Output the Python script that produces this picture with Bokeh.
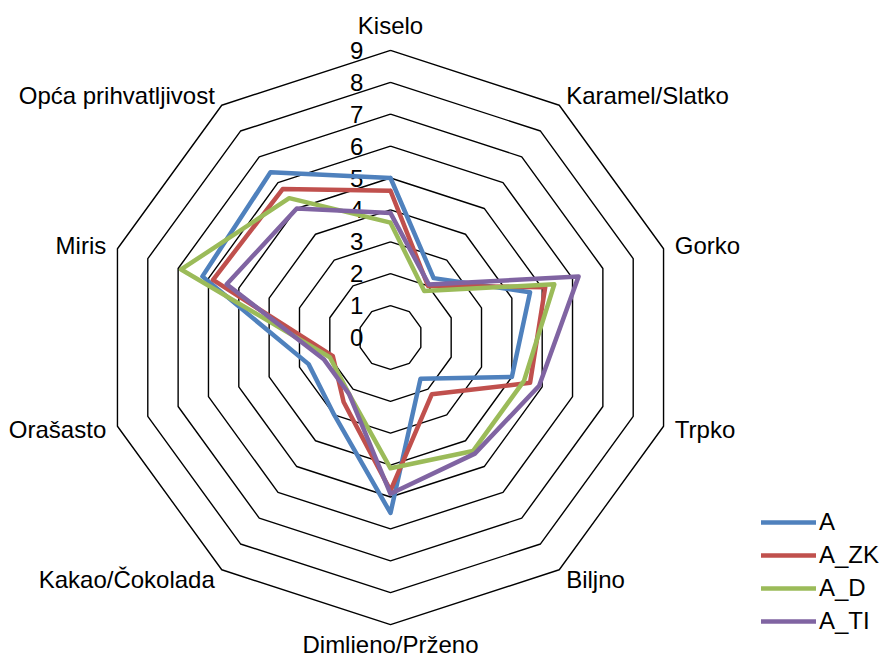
import numpy as np
from bokeh.plotting import figure
from bokeh.models import Range1d, Legend, LegendItem
from bokeh.core.properties import value
from bokeh.embed import file_html
from bokeh.resources import INLINE

categories = ["Kiselo", "Karamel/Slatko", "Gorko", "Trpko", "Biljno",
              "Dimlieno/Prženo", "Kakao/Čokolada", "Orašasto", "Miris",
              "Opća prihvatljivost"]
series_names = ["A", "A_ZK", "A_D", "A_TI"]
A = [5.0, 2.3, 4.6, 4.0, 1.6, 5.5, 3.0, 2.7, 6.2, 6.4]
A_ZK = [4.6, 2.0, 5.1, 4.6, 2.2, 4.8, 2.5, 1.9, 5.85, 5.75]
A_D = [3.6, 1.8, 5.4, 4.4, 4.4, 4.1, 2.2, 2.0, 6.9, 5.4]
A_TI = [3.9, 2.05, 6.2, 4.9, 4.5, 4.9, 2.2, 2.2, 5.4, 5.0]
tick_labels = ["0", "1", "2", "3", "4", "5", "6", "7", "8", "9"]
colors = ["#4F81BD", "#C0504D", "#9BBB59", "#8064A2"]

FONT = "Liberation Sans"
FS = "24px"

# layout (pixels in the reference picture)
W, H = 879, 658
UNIT = 31.9
CX, CY = 390.0, 337.0
x0 = (0 - CX) / UNIT
x1 = (W - CX) / UNIT
y1 = (CY - 0) / UNIT
y0 = (CY - H) / UNIT

p = figure(width=W, height=H, output_backend="svg", toolbar_location=None,
           x_range=Range1d(x0, x1), y_range=Range1d(y0, y1),
           min_border=0, min_border_left=0, min_border_right=0,
           min_border_top=0, min_border_bottom=0)
p.axis.visible = False
p.xgrid.visible = False
p.ygrid.visible = False
p.outline_line_color = None
p.background_fill_color = "white"
p.border_fill_color = "white"

n = len(categories)
theta = np.arange(n) * 2 * np.pi / n
sx = np.sin(theta)
cy = np.cos(theta)

# rings
for k in range(1, len(tick_labels)):
    xs = list(k * sx) + [k * sx[0]]
    ys = list(k * cy) + [k * cy[0]]
    p.line(xs, ys, line_color="black", line_width=1.4)

# tick labels
tvals = [float(t) for t in tick_labels]
p.text(x=[-0.85] * len(tvals), y=tvals, text=tick_labels,
       text_font=value(FONT), text_font_size=FS, text_align="right",
       text_baseline="middle", text_color="black")

# category labels
lx, ly, la = [], [], []
for i in range(n):
    s, c = sx[i], cy[i]
    if abs(s) < 0.01:
        r = 9.37 + (0.40 if c > 0 else 0.26)
    else:
        r = 9.37
    lx.append(r * s)
    ly.append(r * c)
    la.append("left" if s > 0.01 else ("right" if s < -0.01 else "center"))
p.text(x=lx, y=ly, text=categories, text_align=la,
       text_font=value(FONT), text_font_size=FS, text_baseline="middle",
       text_color="black")

# series
items = []
for name, vals, col in zip(series_names, [A, A_ZK, A_D, A_TI], colors):
    v = np.array(vals)
    xs = list(v * sx) + [v[0] * sx[0]]
    ys = list(v * cy) + [v[0] * cy[0]]
    r = p.line(xs, ys, line_color=col, line_width=4.5, line_join="round",
               line_cap="round")
    items.append(LegendItem(label=name, renderers=[r]))

legend = Legend(items=items, location=(761, 23), orientation="vertical",
                border_line_color=None, background_fill_alpha=0,
                padding=0, margin=0, spacing=5, glyph_width=55,
                glyph_height=20, label_height=20, label_standoff=3,
                label_text_font=FONT, label_text_font_size=FS,
                label_text_color="black")
p.add_layout(legend, "center")

open("out.html", "w").write(file_html(p, INLINE))
